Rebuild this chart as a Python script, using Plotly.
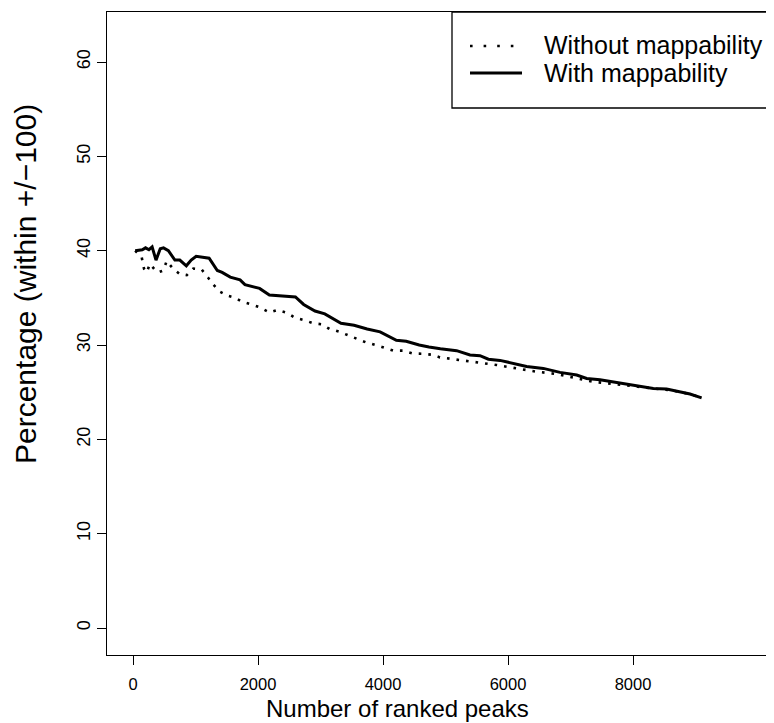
import plotly.graph_objects as go

# ---- data ----
peaks_with = [35, 148, 201, 255, 306, 368, 436, 488, 566, 670, 749, 853, 931, 1010,
              1114, 1218, 1349, 1426, 1556, 1713, 1791, 1921, 2025, 2182, 2391, 2599,
              2730, 2912, 3069, 3328, 3537, 3746, 3954, 4214, 4371, 4579, 4736, 4918,
              5178, 5392, 5552, 5686, 5872, 6032, 6298, 6565, 6832, 7099, 7259, 7472,
              7685, 7899, 8112, 8325, 8538, 8752, 8912, 9098]
pct_with = [40.0, 40.1, 40.3, 40.1, 40.4, 39.0, 40.2, 40.3, 40.0, 39.0, 39.0, 38.4, 39.0, 39.4,
            39.3, 39.2, 37.9, 37.7, 37.2, 36.9, 36.4, 36.2, 36.0, 35.3, 35.2, 35.1,
            34.3, 33.6, 33.3, 32.3, 32.1, 31.7, 31.4, 30.5, 30.4, 30.0, 29.8, 29.6,
            29.4, 28.94, 28.87, 28.5, 28.37, 28.16, 27.73, 27.52, 27.1, 26.82, 26.46, 26.32,
            26.1, 25.86, 25.6, 25.4, 25.34, 25.05, 24.8, 24.4]

peaks_without = [35, 139, 176, 219, 272, 341, 405, 485, 539, 646, 752, 860, 965, 1099,
                 1206, 1285, 1392, 1525, 1635, 1739, 1896, 2025, 2182, 2312, 2469, 2589,
                 2730, 2887, 3017, 3145, 3302, 3563, 3720, 3981, 4164, 4319, 4475, 4632,
                 4788, 4912, 5205, 5499, 5819, 6139, 6458, 6779, 7045, 7366, 7685, 8005,
                 8325, 8646, 8912, 9098]
pct_without = [40.0, 39.3, 38.1, 37.7, 38.6, 38.05, 37.7, 37.9, 38.9, 38.05, 37.5, 37.4, 38.1, 38.0,
               37.1, 36.4, 35.65, 35.2, 35.0, 34.6, 34.3, 34.0, 33.45, 33.7, 33.4, 32.9,
               32.65, 32.3, 32.2, 31.7, 31.4, 30.7, 30.3, 29.8, 29.4, 29.4, 29.1, 29.07,
               28.97, 28.69, 28.44, 28.16, 27.88, 27.52, 27.17, 26.93, 26.57, 26.1, 25.87, 25.6,
               25.4, 25.16, 24.8, 24.4]

x_ticks = [0, 2000, 4000, 6000, 8000]
y_ticks = [0, 10, 20, 30, 40, 50, 60]
series_names = ["Without mappability", "With mappability"]
x_title = "Number of ranked peaks"
y_title = "Percentage (within +/\u2212100)"

# ---- layout geometry (figure pixels; page has an 8px body margin) ----
OFF = 8
W, H = 774 - OFF, 723 - OFF
L, R, T, B = 99, 0, 4, 68
PW, PH = W - L - R, H - T - B
FONT = "Liberation Sans, Arial, Helvetica, sans-serif"


def px_x(p):  # page x -> paper
    return (p - OFF - L) / PW


def px_y(p):  # page y -> paper
    return (H - B - (p - OFF)) / PH


fig = go.Figure()
fig.add_trace(go.Scatter(x=peaks_without, y=pct_without, mode="lines", name=series_names[0],
                         line=dict(color="black", width=2.6, dash="2.6px,7px"),
                         showlegend=False))
fig.add_trace(go.Scatter(x=peaks_with, y=pct_with, mode="lines", name=series_names[1],
                         line=dict(color="black", width=3), showlegend=False))

shapes = [
    # legend box
    dict(type="rect", xref="paper", yref="paper", x0=px_x(452), x1=1.05,
         y0=px_y(108), y1=1, line=dict(color="black", width=1.3), fillcolor="white", layer="above"),
    # legend samples
    dict(type="line", xref="paper", yref="paper", x0=px_x(470), x1=px_x(522),
         y0=px_y(46), y1=px_y(46), line=dict(color="black", width=2.6, dash="2.6px,11px")),
    dict(type="line", xref="paper", yref="paper", x0=px_x(470), x1=px_x(522),
         y0=px_y(73), y1=px_y(73), line=dict(color="black", width=3)),
]

annotations = [
    dict(text=series_names[0], xref="paper", yref="paper", x=px_x(542), y=px_y(45),
         xanchor="left", yanchor="middle", showarrow=False, font=dict(size=25, color="black", family=FONT)),
    dict(text=series_names[1], xref="paper", yref="paper", x=px_x(542), y=px_y(73),
         xanchor="left", yanchor="middle", showarrow=False, font=dict(size=25, color="black", family=FONT)),
    dict(text=x_title, xref="paper", yref="paper", x=px_x(397), y=px_y(708),
         xanchor="center", yanchor="middle", showarrow=False, font=dict(size=24, color="black", family=FONT)),
    dict(text=y_title, xref="paper", yref="paper", x=px_x(25), y=px_y(284),
         xanchor="center", yanchor="middle", textangle=-90, showarrow=False,
         font=dict(size=30, color="black", family=FONT)),
]

fig.update_layout(
    width=W, height=H, autosize=False,
    margin=dict(l=L, r=R, t=T, b=B, pad=0),
    paper_bgcolor="white", plot_bgcolor="white",
    font=dict(family=FONT, color="black"),
    shapes=shapes, annotations=annotations,
    showlegend=False,
    xaxis=dict(range=[-416, 10256], tickvals=x_ticks, ticktext=[str(v) for v in x_ticks],
               ticks="outside", ticklen=9, tickwidth=1.2, tickcolor="black",
               showline=True, mirror=True, linecolor="black", linewidth=1.3,
               showgrid=False, zeroline=False, ticklabelstandoff=5,
               tickfont=dict(size=16.5, color="black", family=FONT)),
    yaxis=dict(range=[-2.86, 65.3], tickvals=y_ticks, ticktext=[str(v) for v in y_ticks],
               ticks="outside", ticklen=9, tickwidth=1.2, tickcolor="black", tickangle=-90,
               showline=True, linecolor="black", linewidth=1.3, showgrid=False, zeroline=False,
               tickfont=dict(size=18, color="black", family=FONT)),
)

fig.write_html("out.html")
